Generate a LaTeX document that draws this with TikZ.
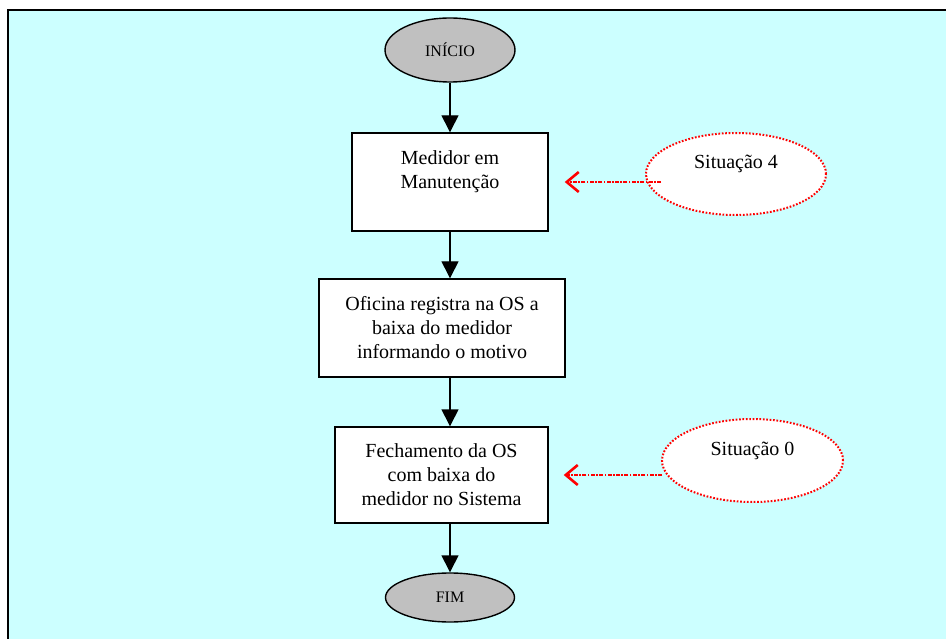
\documentclass[tikz,border=0pt]{standalone}
\usepackage{fontspec}
\setmainfont{Liberation Serif}
\usetikzlibrary{shapes.geometric,arrows.meta,calc}
\definecolor{sheet}{RGB}{204,255,255}
\definecolor{term}{RGB}{192,192,192}
\begin{document}
\begin{tikzpicture}[x=1pt,y=-1pt,
  terminal/.style={ellipse,draw=black,line width=1.4pt,fill=term,inner sep=0pt,
    font=\fontsize{16}{19}\selectfont},
  stepbox/.style={rectangle,draw=black,line width=1.4pt,fill=white,align=center,
    inner sep=0pt,font=\fontsize{20}{24}\selectfont},
  situation/.style={ellipse,draw=red,fill=white,line width=2pt,
    dash pattern=on 1.7pt off 1.7pt,inner sep=0pt,align=center,
    font=\fontsize{20}{24}\selectfont},
  flow/.style={line width=1.4pt,-{Triangle[width=17pt,length=17pt]}},
  sitarrow/.style={draw=red,line width=2.8pt,
    dash pattern=on 4pt off 1.4pt on 1.6pt off 1.4pt,
    -{Straight Barb[width=20pt,length=12pt,line width=2.6pt,sep=0pt]}}]
  \useasboundingbox (0,0) rectangle (946,639);
  \clip (0,0) rectangle (946,639);
  % sheet background and frame
  \fill[white] (0,0) rectangle (946,639);
  \draw[fill=sheet,line width=2pt] (8,10) rectangle (990,690);

  % flow chart
  \node[terminal,minimum width=130pt,minimum height=64pt] (ini) at (450,50) {INÍCIO};
  \node[stepbox,minimum width=196pt,minimum height=98pt] (b1) at (450,182)
    {Medidor em\\Manutenção\\~};
  \node[stepbox,minimum width=246pt,minimum height=98pt] (b2) at (442,328)
    {Oficina registra na OS a\\baixa do medidor\\informando o motivo};
  \node[stepbox,minimum width=213pt,minimum height=96pt] (b3) at (441.5,475)
    {Fechamento da OS\\com baixa do\\medidor no Sistema};
  \node[terminal,minimum width=129pt,minimum height=49pt] (fim) at (450,597.5) {FIM};

  \draw[flow] (ini.south) -- (b1.north);
  \draw[flow] (b1.south) -- (b1.south |- b2.north);
  \draw[flow] (b2.south -| b1.south) -- (b1.south |- b3.north);
  \draw[flow] (b3.south -| b1.south) -- (fim.north);

  % status notes
  \node[situation,minimum width=180pt,minimum height=82pt] (s4) at (736,174)
    {Situação 4\\~};
  \node[situation,minimum width=181pt,minimum height=83pt] (s0) at (752.5,460.5)
    {Situação 0\\~};

  \coordinate (t4) at ($(b1.east)+(16,0)$);
  \coordinate (t0) at ($(b3.east)+(15,0)$);
  \coordinate (a4) at ($(s4.west)+(16,0)$);
  \coordinate (a0) at ($(s0.west)+(1,0)$);
  \draw[sitarrow] (a4 |- t4) -- (t4);
  \draw[sitarrow] (a0 |- t0) -- (t0);
\end{tikzpicture}
\end{document}
